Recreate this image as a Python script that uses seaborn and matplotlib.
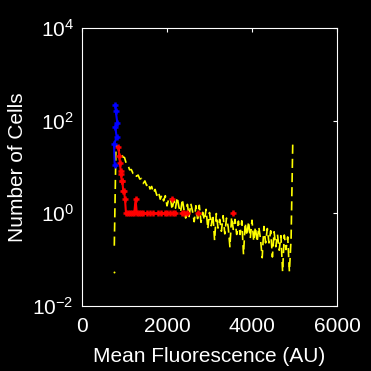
import numpy as np
import pandas as pd
import matplotlib
matplotlib.use("Agg")
import matplotlib.pyplot as plt
import seaborn as sns
from matplotlib.ticker import NullLocator, FixedLocator

# ---------------- data ----------------
# yellow: histogram of mean fluorescence (bins every 40 AU from 760 to 4960)
yellow_start, yellow_stop, yellow_step = 760, 4960, 40
yellow_y = [
    0.2, 30, 28, 22, 21, 16.5, 16, 12.0, 11.1, 8.7,
    8.8, 7.3, 7.6, 6.3, 6.7, 5.5, 5.65, 4.4, 5.0, 4.0,
    4.5, 3.35, 3.8, 2.77, 3.28, 2.45, 2.9, 2.02, 2.5, 1.86,
    2.4, 1.45, 2.04, 2.2, 1.2, 1.9, 1.29, 2.23, 1.37, 1.05,
    2.03, 1.18, 0.79, 1.56, 0.85, 1.63, 1.11, 0.66, 1.46, 0.77,
    1.49, 0.64, 1.05, 0.71, 1.22, 0.46, 1.04, 0.54, 0.94, 0.26,
    0.99, 0.48, 0.74, 0.41, 0.89, 0.36, 0.79, 0.51, 0.19, 0.83,
    0.45, 0.74, 0.35, 0.68, 0.35, 0.69, 0.13, 0.62, 0.33, 0.67,
    0.29, 0.71, 0.25, 0.51, 0.24, 0.51, 0.28, 0.11, 0.52, 0.23,
    0.47, 0.23, 0.42, 0.114, 0.40, 0.19, 0.35, 0.16, 0.33, 0.055,
    0.34, 0.165, 0.31, 0.055, 0.29, 38,
]
# isolated low bin at the left edge of the yellow histogram
yellow_dot_x = [753]
yellow_dot_y = [0.055]

# blue series
blue_x = [784, 793, 831, 784, 816, 753, 769]
blue_y = [218, 164, 90, 72, 44, 31, 11]

# red series (seg = connected run of points)
red_x = [854, 878, 894, 911, 918, 934, 948, 972, 988, 1012, 1035, 1080, 1130,
         1180, 1230, 1260, 1290, 1340, 1390, 1440, 1520, 1600, 1670, 1790,
         1870, 1950, 2000, 2060, 2130, 2190,
         2110,
         2346, 2400, 2463,
         2722,
         3560]
red_y = [27, 17, 12, 8, 7, 5, 5, 3, 3, 2, 1, 1, 1,
         1, 1, 2, 1, 1, 1, 1, 1, 1, 1, 1,
         1, 1, 1, 1, 1, 1,
         2,
         1, 1, 1,
         1,
         1]
red_seg = [0] * 30 + [1] + [2] * 3 + [3] + [4]

x_ticks = [0, 2000, 4000, 6000]
y_ticks = [1e-2, 1e0, 1e2, 1e4]
x_label = "Mean Fluorescence (AU)"
y_label = "Number of Cells"

# ---------------- styling ----------------
sns.set_style("dark", {"axes.facecolor": "black", "figure.facecolor": "black",
                       "axes.edgecolor": "white", "axes.grid": False,
                       "xtick.color": "white", "ytick.color": "white",
                       "text.color": "white", "axes.labelcolor": "white"})
plt.rcParams["font.family"] = ["Liberation Sans", "DejaVu Sans"]
plt.rcParams["mathtext.default"] = "regular"
plt.rcParams["axes.unicode_minus"] = False

fig = plt.figure(figsize=(3.71, 3.71), dpi=100, facecolor="black")
ax = fig.add_axes([82 / 371, 1 - 306 / 371, 255 / 371, 278 / 371])
ax.set_facecolor("black")
ax.set_yscale("log")

yellow_x = np.arange(yellow_start, yellow_stop + 1, yellow_step)
ydf = pd.DataFrame({"x": yellow_x, "y": yellow_y})
sns.lineplot(data=ydf, x="x", y="y", ax=ax, color="yellow", lw=1.2,
             estimator=None, sort=False, legend=False,
             linestyle=(0, (5.5, 3.0)))
sns.scatterplot(x=yellow_dot_x, y=yellow_dot_y, ax=ax, color="yellow",
                s=2, linewidth=0, legend=False)

rdf = pd.DataFrame({"x": red_x, "y": red_y, "seg": red_seg})
sns.lineplot(data=rdf, x="x", y="y", units="seg", ax=ax, color="red", lw=1.5,
             estimator=None, sort=False, legend=False, marker="+",
             markersize=5, markeredgewidth=1.8, markeredgecolor="red")

bdf = pd.DataFrame({"x": blue_x, "y": blue_y})
sns.lineplot(data=bdf, x="x", y="y", ax=ax, color="blue", lw=1.5,
             estimator=None, sort=False, legend=False, marker="+",
             markersize=5, markeredgewidth=1.8, markeredgecolor="blue")

ax.set_xlim(0, 6000)
ax.set_ylim(1e-2, 1e4)
ax.xaxis.set_major_locator(FixedLocator(x_ticks))
ax.yaxis.set_major_locator(FixedLocator(y_ticks))
ax.yaxis.set_minor_locator(NullLocator())
ax.xaxis.set_minor_locator(NullLocator())
ax.set_xticklabels([str(t) for t in x_ticks])
ax.set_yticklabels([r"$10^{%d}$" % int(np.log10(t)) for t in y_ticks])

ax.tick_params(axis="both", which="major", direction="in", length=3, width=0.8,
               colors="white", labelsize=15, top=True, right=True)
ax.tick_params(axis="x", pad=8)
ax.tick_params(axis="y", pad=6)
for s in ax.spines.values():
    s.set_color("white")
    s.set_linewidth(0.8)

ax.set_xlabel(x_label, fontsize=15, color="white", labelpad=8)
ax.set_ylabel(y_label, fontsize=15, color="white", labelpad=4)

fig.savefig("out.png", dpi=100, facecolor="black")
